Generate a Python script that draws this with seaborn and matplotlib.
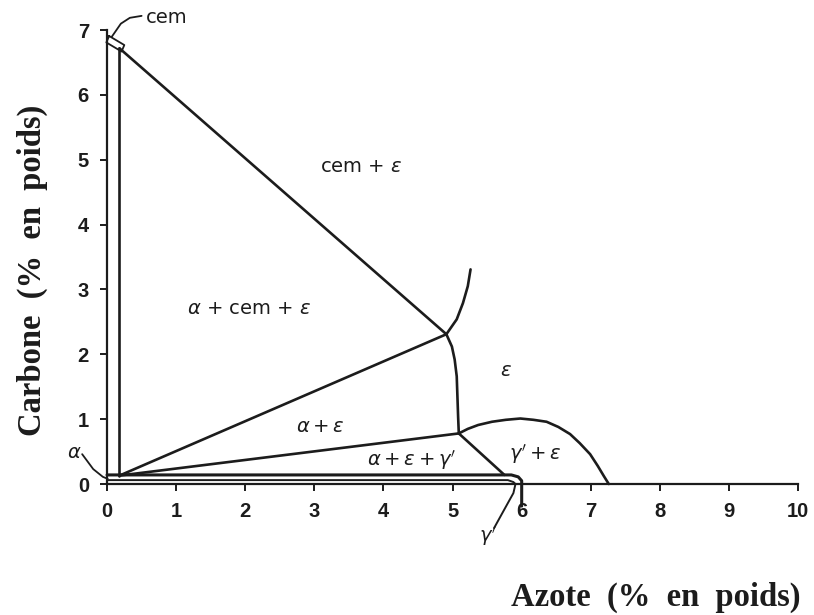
import matplotlib
matplotlib.use("Agg")
import matplotlib.pyplot as plt
import seaborn as sns
import pandas as pd

# ---- phase-boundary data (Azote %, Carbone %) ----
cem_vert_x = [0.18, 0.18]
cem_vert_y = [0.13, 6.72]
cem_eps_x = [0.18, 4.91]
cem_eps_y = [6.72, 2.31]
a_cem_eps_x = [0.18, 4.91]
a_cem_eps_y = [0.13, 2.31]
eps_top_x = [4.91, 5.06, 5.15, 5.22, 5.26]
eps_top_y = [2.31, 2.54, 2.79, 3.05, 3.31]
eps_left_x = [4.91, 4.99, 5.03, 5.06, 5.07, 5.08, 5.09]
eps_left_y = [2.31, 2.12, 1.92, 1.66, 1.35, 1.04, 0.78]
a_eps_x = [0.18, 5.09]
a_eps_y = [0.13, 0.78]
dome_x = [5.09, 5.22, 5.37, 5.57, 5.77, 5.98, 6.17, 6.36, 6.53, 6.70, 6.84, 6.99, 7.10, 7.19, 7.26]
dome_y = [0.78, 0.85, 0.91, 0.96, 0.99, 1.01, 0.99, 0.96, 0.88, 0.77, 0.63, 0.46, 0.28, 0.12, 0.00]
ge_x = [5.09, 5.75]
ge_y = [0.78, 0.14]
gp_line_x = [0.0, 5.85, 5.95, 6.00, 6.00]
gp_line_y = [0.14, 0.14, 0.11, 0.05, -0.34]
thin_x = [0.0, 5.80, 5.88, 5.91, 5.88, 5.75, 5.60]
thin_y = [0.06, 0.06, 0.03, 0.00, -0.14, -0.39, -0.68]
alpha_lead_x = [-0.36, -0.20, -0.06, 0.01]
alpha_lead_y = [0.46, 0.23, 0.11, 0.08]
cem_lead_x = [0.50, 0.33, 0.20, 0.07]
cem_lead_y = [7.22, 7.19, 7.10, 6.90]
cem_box_x = [0.03, 0.25, 0.21, -0.01, 0.03]
cem_box_y = [6.91, 6.77, 6.67, 6.81, 6.91]

x_ticks = [0, 1, 2, 3, 4, 5, 6, 7, 8, 9, 10]
y_ticks = [0, 1, 2, 3, 4, 5, 6, 7]

labels = [
    ("cem", 0.86, 7.20),
    ("cem + $\\varepsilon$", 3.68, 4.90),
    ("$\\alpha$ + cem + $\\varepsilon$", 2.05, 2.70),
    ("$\\varepsilon$", 5.77, 1.75),
    ("$\\alpha + \\varepsilon$", 3.08, 0.88),
    ("$\\alpha + \\varepsilon + \\gamma'$", 4.41, 0.37),
    ("$\\gamma' + \\varepsilon$", 6.19, 0.46),
    ("$\\alpha$", -0.48, 0.48),
    ("$\\gamma'$", 5.51, -0.80),
]

sns.set_theme(style="ticks")
plt.rcParams["font.family"] = ["DejaVu Sans"]
plt.rcParams["mathtext.fontset"] = "dejavusans"

fig = plt.figure(figsize=(8.14, 6.15), dpi=100)
ax = fig.add_axes([0.1315, 0.213, 0.849, 0.738])

col = "#1c1c1c"

def draw(xs, ys, lw=1.9):
    df = pd.DataFrame({"x": xs, "y": ys})
    l = sns.lineplot(data=df, x="x", y="y", ax=ax, color=col, linewidth=lw,
                     sort=False, estimator=None, legend=False)
    l.lines[-1].set_clip_on(False)
    l.lines[-1].set_solid_capstyle("round")
    l.lines[-1].set_solid_joinstyle("round")

draw(cem_vert_x, cem_vert_y)
draw(cem_eps_x, cem_eps_y)
draw(a_cem_eps_x, a_cem_eps_y)
draw(eps_top_x, eps_top_y)
draw(eps_left_x, eps_left_y)
draw(a_eps_x, a_eps_y)
draw(dome_x, dome_y)
draw(ge_x, ge_y)
draw(gp_line_x, gp_line_y, 2.2)
draw(thin_x, thin_y, 1.4)
draw(alpha_lead_x, alpha_lead_y, 1.3)
draw(cem_lead_x, cem_lead_y, 1.3)
draw(cem_box_x, cem_box_y, 1.3)

for txt, x, y in labels:
    ax.text(x, y, txt, ha="center", va="center", fontsize=14,
            color=col, family="DejaVu Sans", clip_on=False)

ax.set_xlim(0, 10)
ax.set_ylim(0, 7)
ax.set_xticks(x_ticks)
ax.set_yticks(y_ticks)
ax.set_xticklabels([str(t) for t in x_ticks])
ax.set_yticklabels([str(t) for t in y_ticks])
ax.tick_params(axis="both", direction="out", length=5, width=1.4, colors=col,
               labelsize=14.5, pad=8)
for lab in ax.get_xticklabels() + ax.get_yticklabels():
    lab.set_fontweight("bold")
    lab.set_family("Liberation Sans")
ax.set_xlabel("")
ax.set_ylabel("")
sns.despine(ax=ax)
for s in ("left", "bottom"):
    ax.spines[s].set_linewidth(1.6)
    ax.spines[s].set_color(col)
ax.set_facecolor("white")

fig.text(0.984, 1 - 597 / 615, "Azote  (%  en  poids)", ha="right", va="center",
         fontsize=23.5, fontweight="bold", family="Liberation Serif", color=col)
fig.text(32 / 814, 1 - 270 / 615, "Carbone  (%  en  poids)", ha="center", va="center",
         rotation=90, fontsize=23.5, fontweight="bold", family="Liberation Serif", color=col)

fig.savefig("out.png", dpi=100, facecolor="white")
